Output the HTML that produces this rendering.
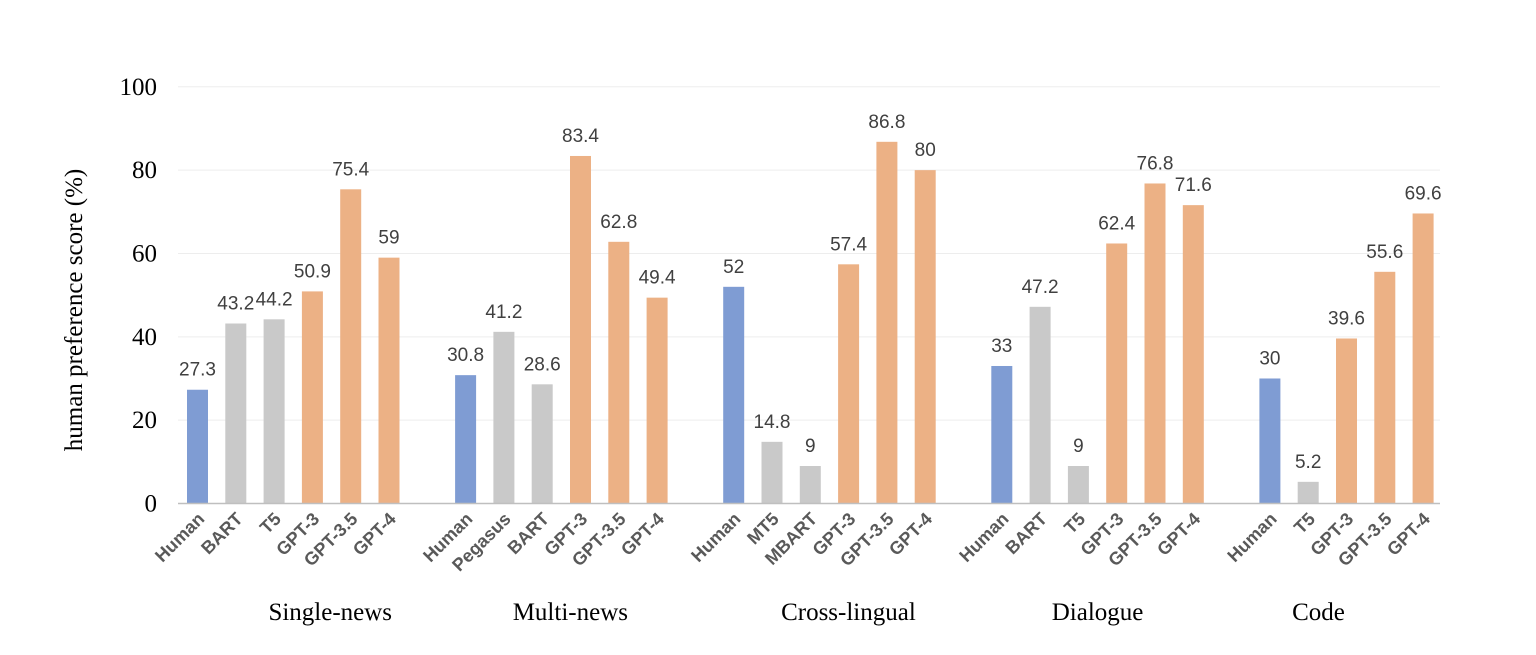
<!DOCTYPE html>
<html><head><meta charset="utf-8"><style>
body{margin:0;background:#fff;width:1536px;height:650px;overflow:hidden}
svg text{font-family:"Liberation Sans",sans-serif}
.serif{font-family:"Liberation Serif",serif!important}
</style></head><body>
<svg id="chart" width="1536" height="650" xmlns="http://www.w3.org/2000/svg"></svg>
<script>
const groups=["Single-news","Multi-news","Cross-lingual","Dialogue","Code"];
const models=[["Human","BART","T5","GPT-3","GPT-3.5","GPT-4"],["Human","Pegasus","BART","GPT-3","GPT-3.5","GPT-4"],["Human","MT5","MBART","GPT-3","GPT-3.5","GPT-4"],["Human","BART","T5","GPT-3","GPT-3.5","GPT-4"],["Human","T5","GPT-3","GPT-3.5","GPT-4"]];
const values=[[27.3,43.2,44.2,50.9,75.4,59],[30.8,41.2,28.6,83.4,62.8,49.4],[52,14.8,9,57.4,86.8,80],[33,47.2,9,62.4,76.8,71.6],[30,5.2,39.6,55.6,69.6]];
const yTicks=[0,20,40,60,80,100];
const NS="http://www.w3.org/2000/svg",svg=document.getElementById('chart');
function el(t,a,txt){const e=document.createElementNS(NS,t);for(const k in a)e.setAttribute(k,a[k]);if(txt!==undefined)e.textContent=txt;svg.appendChild(e);return e;}
const y=v=>503.5-v*4.167;
const slot=38.3,x0=197.5;
const xs=i=>x0+i*slot;
const groupLabelShift=[37,9,19,0,-28];
function color(m){return m==="Human"?"#7f9cd3":(m.startsWith("GPT")?"#ecb185":"#c9c9c9");}
yTicks.forEach(t=>{
 if(t>0){const g=el('line',{x1:178,x2:1440,y1:y(t),y2:y(t),stroke:'#ededed','stroke-width':1});
 
 }
 const l=el('text',{x:157,y:y(t)+8,'text-anchor':'end','font-size':25,fill:'#000',class:'serif'},t);
 
 
});
let idx=0;
groups.forEach((g,gi)=>{
 const start=idx;
 models[gi].forEach((m,mi)=>{
  const cx=xs(idx),v=values[gi][mi];
  const r=el('rect',{x:cx-10.5,y:y(v),width:21,height:y(0)-y(v),fill:color(m)});
  
  
  const vl=el('text',{x:cx,y:y(v)-14,'text-anchor':'middle','font-size':19,fill:'#404040'},v);
  
  
  const ax0=cx+8,ay0=520;
  const cl=el('text',{x:ax0,y:ay0,'text-anchor':'end','font-size':18,'font-weight':'bold',fill:'#595959',transform:`rotate(-45 ${ax0} ${ay0})`},m);
  
  
  idx++;
 });
 const mid=(xs(start)+xs(idx-1))/2+groupLabelShift[gi];
 const gl=el('text',{x:mid,y:620,'text-anchor':'middle','font-size':25,fill:'#000',class:'serif'},g);
 
 
 idx++;
});
const ax=el('line',{x1:178,x2:1440,y1:y(0),y2:y(0),stroke:'#bfbfbf','stroke-width':1.5});


const yt=el('text',{x:0,y:0,'text-anchor':'middle','font-size':25,fill:'#000',class:'serif',transform:'translate(82,310) rotate(-90)'},'human preference score  (%)');


</script>
</body></html>
